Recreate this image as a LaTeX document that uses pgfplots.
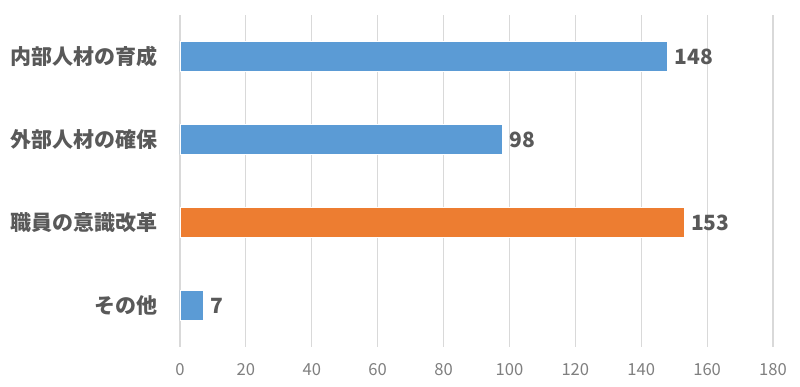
\documentclass[border=0pt]{standalone}
\usepackage{fontspec}
\setmainfont{Noto Sans CJK JP}
\usepackage{pgfplots}
\pgfplotsset{compat=1.18}
\definecolor{barblue}{HTML}{5B9BD5}
\definecolor{barorange}{HTML}{ED7D31}
\definecolor{labgray}{HTML}{595959}
\definecolor{tickgray}{HTML}{7F7F7F}
\definecolor{gridgray}{HTML}{D9D9D9}
\begin{document}
\begin{tikzpicture}
\begin{axis}[
  scale only axis,
  width=296.5pt, height=166pt,
  xbar, bar width=15pt, bar shift=0pt,
  xmin=0, xmax=180,
  ymin=-0.5, ymax=3.5,
  xtick={0,20,...,180},
  ytick={0,1,2,3},
  yticklabels={その他,職員の意識改革,外部人材の確保,内部人材の育成},
  yticklabel style={font=\bfseries\fontsize{10.5}{12}\selectfont, text=labgray, xshift=-7.5pt},
  xticklabel style={font=\fontsize{8.3}{10}\selectfont, text=tickgray, yshift=-4.5pt},
  /pgf/number format/assume math mode=true,
  major tick length=0pt,
  axis line style={draw=none},
  xmajorgrids, major grid style={gridgray, line width=0.6pt},
  nodes near coords,
  nodes near coords style={font=\bfseries\fontsize{10.5}{12}\selectfont, text=labgray, xshift=0pt},
  every node near coord/.append style={anchor=west},
  point meta=x,
]
\addplot[fill=barblue, draw=white, line width=0.4pt] coordinates {(148,3) (98,2) (7,0)};
\addplot[fill=barorange, draw=white, line width=0.4pt] coordinates {(153,1)};
\coordinate (sw) at (rel axis cs:0,0);
\coordinate (ne) at (rel axis cs:1,1);
\end{axis}
\pgfresetboundingbox
\path ([xshift=-90pt,yshift=-20pt]sw) rectangle ([xshift=13.5pt,yshift=7.5pt]ne);
\end{tikzpicture}
\end{document}
